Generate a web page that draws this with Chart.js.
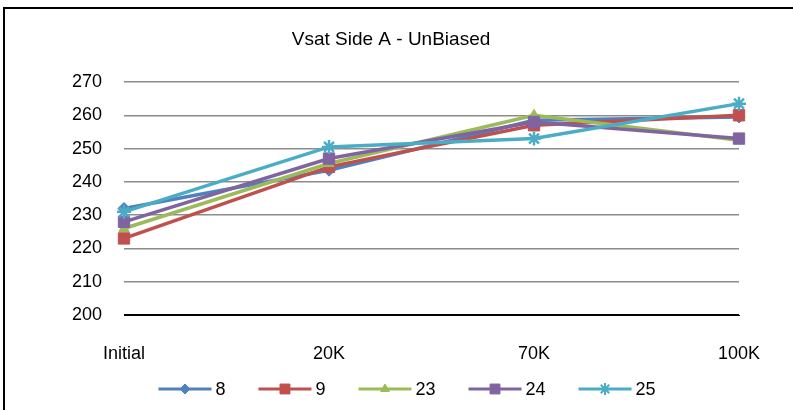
<!DOCTYPE html>
<html>
<head>
<meta charset="utf-8">
<script src="https://cdn.jsdelivr.net/npm/chart.js@4"></script>
<style>
  body { margin: 0; background: #fff; }
  #wrap { position: relative; width: 793px; height: 410px; }
  #frame { position: absolute; left: 3px; top: 7px; width: 900px; height: 500px;
           border-left: 2px solid #000; border-top: 2px solid #000; pointer-events: none; }
</style>
</head>
<body>
<div id="wrap">
  <canvas id="line-chart" width="793" height="410"></canvas>
  <div id="frame"></div>
</div>
<script>
var categories = ["Initial", "20K", "70K", "100K"];
var seriesNames = ["8", "9", "23", "24", "25"];
var s8 = [232, 243.5, 258.5, 259.5];
var s9 = [223, 244.5, 257, 260];
var s23 = [226, 245.5, 260, 252.5];
var s24 = [228, 247, 258, 253];
var s25 = [231, 250.5, 253, 263.5];
var yTicks = [200, 210, 220, 230, 240, 250, 260, 270];

var colors = ["#4F81BD", "#C0504D", "#9BBB59", "#8064A2", "#4BACC6"];
var styles = ["rectRot", "rect", "triangle", "rect", "star"];
var radii = [6, 8, 6, 8, 7];
var values = [s8, s9, s23, s24, s25];

Chart.defaults.font.family = "'Liberation Sans', Arial, sans-serif";
Chart.defaults.font.size = 18;
Chart.defaults.color = "#000";

// title + legend with line and marker, like the spreadsheet one
var titleAndLegend = {
    id: 'titleAndLegend',
    afterDraw: function (chart) {
        var ctx = chart.ctx;
        ctx.save();
        ctx.fillStyle = "#000";
        ctx.textAlign = "center";
        ctx.textBaseline = "middle";
        ctx.font = "19px 'Liberation Sans', Arial, sans-serif";
        ctx.fillText('Vsat Side A - UnBiased', 391, 40);

        ctx.textAlign = "left";
        ctx.font = "18px 'Liberation Sans', Arial, sans-serif";
        var lineW = 53, gap = 4, space = 33;
        var total = 0;
        seriesNames.forEach(function (n, i) {
            total += lineW + gap + ctx.measureText(n).width + (i < seriesNames.length - 1 ? space : 0);
        });
        var x = 407 - total / 2;
        var y = 389;
        seriesNames.forEach(function (n, i) {
            ctx.strokeStyle = colors[i];
            ctx.fillStyle = colors[i];
            ctx.lineWidth = 3;
            ctx.beginPath();
            ctx.moveTo(x, y);
            ctx.lineTo(x + lineW, y);
            ctx.stroke();
            ctx.lineWidth = styles[i] === 'star' ? 2 : 1;
            Chart.helpers.drawPoint(ctx, { pointStyle: styles[i], radius: radii[i] - 1, rotation: 0, borderWidth: ctx.lineWidth }, x + lineW / 2, y);
            ctx.fillStyle = "#000";
            ctx.fillText(n, x + lineW + gap, y + 1);
            x += lineW + gap + ctx.measureText(n).width + space;
        });
        ctx.restore();
    }
};

new Chart(document.getElementById("line-chart"), {
    type: 'line',
    data: {
        labels: categories,
        datasets: values.map(function (v, i) {
            return {
                label: seriesNames[i],
                data: v,
                borderColor: colors[i],
                backgroundColor: colors[i],
                borderWidth: 3.5,
                pointStyle: styles[i],
                pointRadius: radii[i],
                pointBorderWidth: styles[i] === 'star' ? 2.5 : 1,
                pointBackgroundColor: colors[i],
                pointBorderColor: colors[i],
                tension: 0,
                order: 4 - i
            };
        })
    },
    plugins: [titleAndLegend],
    options: {
        responsive: false,
        animation: false,
        layout: { padding: { left: 0, right: 54, top: 82, bottom: 30 } },
        plugins: {
            legend: { display: false },
            tooltip: { enabled: false },
            title: { display: false }
        },
        scales: {
            x: {
                offset: false,
                afterFit: function (scale) { scale.height = 65; },
                grid: { display: false, drawTicks: false },
                border: { display: true, color: '#000', width: 1 },
                ticks: { padding: 28, maxRotation: 0, autoSkip: false }
            },
            y: {
                min: yTicks[0],
                max: yTicks[yTicks.length - 1],
                afterFit: function (scale) { scale.width = 124; },
                afterBuildTicks: function (scale) {
                    scale.ticks = yTicks.map(function (t) { return { value: t }; });
                },
                grid: {
                    drawTicks: false,
                    lineWidth: 1.5,
                    color: function (c) { return c.tick && c.tick.value === 200 ? '#000' : '#8c8c8c'; }
                },
                border: { display: false },
                ticks: { padding: 22 }
            }
        }
    }
});
</script>
</body>
</html>
